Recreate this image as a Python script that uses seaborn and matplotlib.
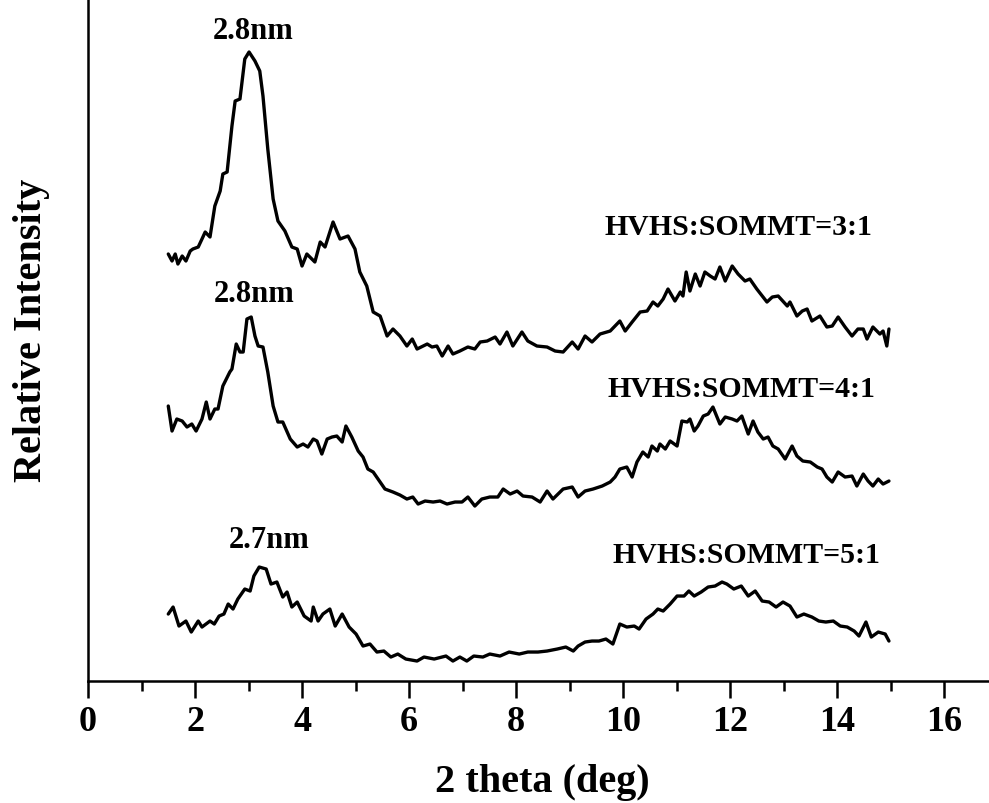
import numpy as np
import pandas as pd
import matplotlib
matplotlib.use("Agg")
import matplotlib.pyplot as plt
from matplotlib.ticker import MultipleLocator
import seaborn as sns

# ---- data (2 theta in degrees, relative intensity in arbitrary units) ----
x_31 = [1.50, 1.57, 1.63, 1.68, 1.76, 1.83, 1.91, 1.96, 2.06, 2.13, 2.19, 2.28, 2.37, 2.47, 2.52, 2.60,
        2.69, 2.75, 2.84, 2.93, 3.01, 3.12, 3.21, 3.27, 3.36, 3.46, 3.55, 3.68, 3.81, 3.91, 4.00, 4.09,
        4.24, 4.34, 4.43, 4.58, 4.71, 4.86, 4.99, 5.08, 5.21, 5.33, 5.46, 5.59, 5.70, 5.83, 5.96, 6.06,
        6.15, 6.34, 6.43, 6.52, 6.62, 6.73, 6.82, 6.95, 7.10, 7.23, 7.33, 7.46, 7.61, 7.70, 7.83, 7.94,
        8.11, 8.22, 8.39, 8.58, 8.73, 8.88, 9.05, 9.16, 9.29, 9.42, 9.57, 9.76, 9.94, 10.04, 10.17, 10.32,
        10.45, 10.56, 10.65, 10.75, 10.84, 10.97, 11.07, 11.12, 11.18, 11.25, 11.35, 11.44, 11.53, 11.63,
        11.72, 11.81, 11.91, 12.04, 12.15, 12.28, 12.37, 12.50, 12.69, 12.79, 12.90, 13.07, 13.12, 13.25,
        13.35, 13.44, 13.53, 13.68, 13.81, 13.91, 14.02, 14.15, 14.28, 14.39, 14.49, 14.56, 14.67, 14.80,
        14.86, 14.93, 14.97]
y_31 = [427, 420, 427, 417, 425, 420, 430, 432, 434, 442, 449, 444, 475, 490, 507, 509,
        555, 580, 582, 622, 629, 620, 610, 585, 532, 482, 460, 450, 434, 432, 415, 427,
        419, 439, 434, 459, 442, 445, 432, 409, 395, 369, 365, 345, 352, 345, 335, 342,
        332, 337, 334, 335, 325, 335, 327, 330, 334, 332, 339, 340, 344, 337, 349, 335,
        349, 340, 335, 334, 330, 329, 339, 332, 345, 339, 347, 350, 360, 350, 359, 369,
        370, 379, 375, 382, 392, 380, 389, 385, 409, 390, 407, 395, 409, 405,
        402, 414, 400, 415, 407, 400, 402, 392, 379, 384, 385, 375, 379, 365,
        370, 372, 360, 365, 354, 355, 364, 354, 345, 352, 352, 342, 354, 347,
        350, 335, 352]

x_41 = [1.50, 1.57, 1.66, 1.76, 1.85, 1.94, 2.02, 2.13, 2.21, 2.28, 2.37, 2.43, 2.52, 2.65, 2.69, 2.77,
        2.84, 2.90, 2.97, 3.05, 3.12, 3.18, 3.27, 3.36, 3.46, 3.55, 3.64, 3.78, 3.91, 4.02, 4.11, 4.21,
        4.28, 4.37, 4.47, 4.56, 4.65, 4.75, 4.82, 4.93, 5.05, 5.14, 5.23, 5.33, 5.42, 5.55, 5.70, 5.83,
        5.96, 6.07, 6.17, 6.30, 6.45, 6.58, 6.71, 6.86, 6.99, 7.10, 7.23, 7.36, 7.51, 7.66, 7.76, 7.89,
        8.02, 8.13, 8.30, 8.45, 8.58, 8.69, 8.88, 9.05, 9.16, 9.29, 9.44, 9.61, 9.76, 9.85, 9.94, 10.07,
        10.17, 10.26, 10.37, 10.47, 10.54, 10.64, 10.69, 10.79, 10.88, 11.01, 11.10, 11.20, 11.25, 11.33,
        11.40, 11.50, 11.59, 11.68, 11.81, 11.91, 12.04, 12.13, 12.22, 12.34, 12.43, 12.52, 12.62, 12.71,
        12.80, 12.90, 13.03, 13.16, 13.25, 13.36, 13.50, 13.63, 13.72, 13.81, 13.91, 14.02, 14.15, 14.28,
        14.37, 14.49, 14.58, 14.67, 14.77, 14.86, 14.97]
y_41 = [275, 250, 262, 260, 254, 257, 250, 262, 279, 262, 272, 272, 295, 309, 312, 337,
        329, 329, 362, 364, 345, 335, 334, 309, 275, 259, 259, 242, 234, 237, 234, 242,
        240, 227, 242, 244, 245, 239, 255, 244, 230, 224, 212, 209, 202, 192, 189, 186,
        182, 184, 177, 180, 179, 180, 177, 179, 179, 184, 175, 182, 184, 184, 192, 187,
        190, 185, 184, 179, 190, 182, 192, 194, 184, 190, 192, 195, 199, 204, 212, 214,
        204, 219, 229, 224, 235, 230, 237, 232, 240, 235, 260, 259, 262, 250,
        255, 265, 267, 274, 257, 264, 262, 260, 265, 247, 260, 249, 242, 244,
        235, 232, 222, 235, 225, 220, 219, 214, 212, 204, 199, 209, 204, 205,
        195, 207, 200, 195, 202, 197, 200]

x_51 = [1.50, 1.59, 1.70, 1.83, 1.93, 2.06, 2.13, 2.28, 2.36, 2.45, 2.54, 2.62, 2.71, 2.80, 2.93, 3.03,
        3.10, 3.20, 3.33, 3.42, 3.53, 3.64, 3.72, 3.81, 3.91, 4.04, 4.17, 4.21, 4.30, 4.39, 4.52, 4.62,
        4.75, 4.88, 5.01, 5.14, 5.27, 5.40, 5.53, 5.66, 5.79, 5.94, 6.15, 6.28, 6.47, 6.69, 6.82, 6.95,
        7.08, 7.21, 7.38, 7.51, 7.70, 7.87, 8.06, 8.22, 8.41, 8.58, 8.77, 8.93, 9.07, 9.16, 9.29, 9.42,
        9.55, 9.68, 9.81, 9.94, 10.07, 10.21, 10.30, 10.43, 10.56, 10.65, 10.75, 10.88, 11.01, 11.14,
        11.23, 11.33, 11.46, 11.59, 11.72, 11.85, 11.94, 12.07, 12.21, 12.34, 12.47, 12.60, 12.73, 12.86,
        12.99, 13.12, 13.25, 13.38, 13.53, 13.66, 13.79, 13.93, 14.06, 14.19, 14.32, 14.41, 14.54, 14.64,
        14.77, 14.90, 14.97]
y_51 = [67, 74, 55, 60, 49, 60, 54, 60, 57, 65, 67, 77, 72, 82, 92, 90,
        105, 114, 112, 97, 99, 84, 89, 74, 79, 65, 60, 74, 60, 67, 72, 55,
        67, 54, 47, 35, 37, 29, 30, 24, 27, 22, 20, 24, 22, 25, 20, 24,
        20, 25, 24, 27, 25, 29, 27, 29, 29, 30, 32, 34, 30, 35, 39, 40,
        40, 42, 37, 57, 54, 55, 52, 62, 67, 72, 70, 77, 85, 85,
        90, 85, 89, 94, 95, 99, 97, 92, 95, 85, 90, 80, 79, 74,
        79, 75, 64, 67, 64, 60, 59, 60, 55, 54, 50, 45, 59, 44,
        49, 47, 40]

series_names = ["HVHS:SOMMT=3:1", "HVHS:SOMMT=4:1", "HVHS:SOMMT=5:1"]
peak_labels = ["2.8nm", "2.8nm", "2.7nm"]
x_ticks = [0, 2, 4, 6, 8, 10, 12, 14, 16]

df = pd.concat([
    pd.DataFrame({"theta": x_31, "intensity": y_31, "sample": series_names[0]}),
    pd.DataFrame({"theta": x_41, "intensity": y_41, "sample": series_names[1]}),
    pd.DataFrame({"theta": x_51, "intensity": y_51, "sample": series_names[2]}),
], ignore_index=True)

# ---- style ----
sns.set_style("ticks")
plt.rcParams["font.family"] = ["Liberation Serif", "DejaVu Serif"]
plt.rcParams["font.weight"] = "bold"
plt.rcParams["text.color"] = "black"
plt.rcParams["axes.labelcolor"] = "black"
plt.rcParams["xtick.color"] = "black"
plt.rcParams["ytick.color"] = "black"
plt.rcParams["axes.edgecolor"] = "black"

fig = plt.figure(figsize=(9.89, 8.04), dpi=100)
ax = fig.add_axes([0.089, 0.1517, 0.911, 0.8483])

sns.lineplot(data=df, x="theta", y="intensity", hue="sample", units="sample",
             estimator=None, sort=False, palette=["black"] * 3, linewidth=2.4,
             legend=False, ax=ax)

ax.set_xlim(0, 16.84)
ax.set_ylim(0, 682)
ax.set_xticks(x_ticks)
ax.set_xticklabels([str(t) for t in x_ticks])
ax.xaxis.set_minor_locator(MultipleLocator(1))
ax.set_yticks([])

for side in ["top", "right"]:
    ax.spines[side].set_visible(False)
for side in ["left", "bottom"]:
    ax.spines[side].set_linewidth(1.8)
    ax.spines[side].set_color("black")

ax.tick_params(axis="x", which="major", direction="out", length=12, width=1.8,
               labelsize=26, pad=5, colors="black", labelcolor="black")
ax.tick_params(axis="x", which="minor", direction="out", length=7, width=1.8, colors="black")
for lbl in ax.get_xticklabels():
    lbl.set_fontweight("bold")
    lbl.set_color("black")

ax.set_xlabel("2 theta (deg)", fontsize=29, fontweight="bold", color="black")
ax.xaxis.set_label_coords(0.504, -0.148)
ax.xaxis.label.set_va("center")
ax.set_ylabel("Relative Intensity", fontsize=29, fontweight="bold", color="black")
ax.yaxis.set_label_coords(-0.063, 0.516)
ax.yaxis.label.set_va("center")

# annotations
sample_pos = [(12.15, 447), (12.22, 285), (12.30, 119)]
peak_pos = [(3.08, 643), (3.10, 380), (3.38, 134)]
for name, (px, py) in zip(series_names, sample_pos):
    ax.text(px, py, name, ha="center", va="baseline", fontsize=21.5,
            fontweight="bold", color="black")
for lab, (px, py) in zip(peak_labels, peak_pos):
    ax.text(px, py, lab, ha="center", va="baseline", fontsize=22,
            fontweight="bold", color="black")

fig.savefig("out.png", dpi=100)
